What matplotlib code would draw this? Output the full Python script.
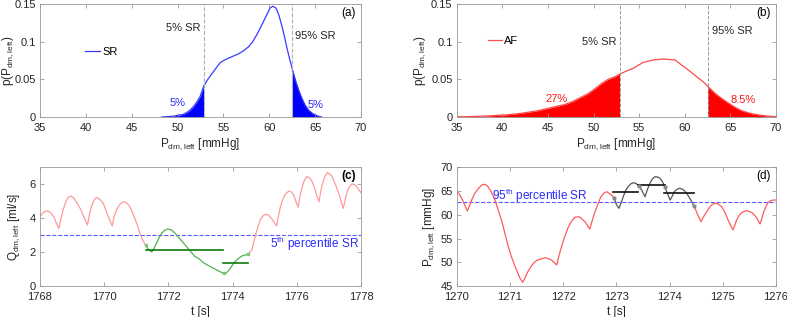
import numpy as np
import matplotlib
matplotlib.use("Agg")
import matplotlib.pyplot as plt

plt.rcParams['font.family'] = ['Liberation Sans', 'DejaVu Sans']
plt.rcParams['mathtext.default'] = 'regular'
plt.rcParams['font.size'] = 8

# --- (a) SR density of P_dm,left ---
sr_p = [48.27, 49.5, 50.63, 51.2, 51.72, 52.1, 52.45, 52.85, 53.3, 53.72, 54.2, 54.63, 55.1, 55.54,
        56.1, 56.63, 57.2, 57.72, 58.2, 58.63, 59.1, 59.54, 60.08, 60.38, 60.74, 61.05, 61.35, 61.65,
        61.9, 62.2, 62.5, 62.85, 63.2, 63.55, 63.9, 64.3, 64.8, 65.3, 65.7]
sr_dens = [0.0, 0.001, 0.0035, 0.0075, 0.0137, 0.02, 0.027, 0.041, 0.05, 0.057, 0.065, 0.072, 0.0755,
           0.078, 0.081, 0.0837, 0.088, 0.093, 0.1, 0.109, 0.12, 0.131, 0.1445, 0.147, 0.1445, 0.135,
           0.122, 0.107, 0.093, 0.078, 0.064, 0.049, 0.036, 0.025, 0.016, 0.009, 0.004, 0.0012, 0.0]

# --- (b) AF density of P_dm,left ---
af_p = [35.0, 36.5, 38.0, 40.3, 42.0, 43.9, 45.8, 46.8, 47.6, 48.5, 49.4, 50.2, 50.9, 51.6, 52.35,
        52.85, 53.6, 54.36, 55.46, 56.55, 57.65, 58.93, 59.66, 60.39, 61.3, 62.0, 62.5, 63.3, 64.0,
        64.6, 65.3, 66.05, 66.8, 67.5, 68.3, 69.0, 70.0]
af_dens = [0.0002, 0.0006, 0.0012, 0.0027, 0.0048, 0.0084, 0.0137, 0.0165, 0.02, 0.0255, 0.031,
           0.038, 0.0447, 0.05, 0.0535, 0.0567, 0.061, 0.0646, 0.0726, 0.0757, 0.077, 0.0757, 0.069,
           0.0624, 0.0535, 0.0469, 0.041, 0.0315, 0.025, 0.02, 0.0145, 0.0093, 0.0062, 0.004, 0.0024,
           0.0013, 0.0004]

sr_p05 = 52.85
sr_p95 = 62.5
dens_ticks = [0, 0.05, 0.1, 0.15]
dens_ticklabels = ['0', '0.05', '0.1', '0.15']
p_ticks = [35, 40, 45, 50, 55, 60, 65, 70]

# --- (c) flow Q_dm,left over time ---
q_t_red1 = [1768.0, 1768.04, 1768.12, 1768.2, 1768.28, 1768.35, 1768.44, 1768.51, 1768.59, 1768.65,
            1768.72, 1768.8, 1768.875, 1768.96, 1769.05, 1769.13, 1769.24, 1769.34, 1769.42, 1769.48,
            1769.54, 1769.6, 1769.68, 1769.76, 1769.86, 1769.97, 1770.05, 1770.125, 1770.2, 1770.25,
            1770.31, 1770.38, 1770.48, 1770.59, 1770.7, 1770.8, 1770.9, 1771.01, 1771.1, 1771.17,
            1771.29]
q_v_red1 = [4.1, 4.19, 4.36, 4.42, 4.4, 4.29, 4.05, 3.7, 3.4, 3.95, 4.48, 4.95, 5.23, 5.31, 5.2,
            4.97, 4.62, 4.19, 3.85, 3.6, 4.2, 4.68, 5.05, 5.23, 5.12, 4.88, 4.5, 4.09, 3.78, 3.54,
            4.1, 4.48, 4.8, 4.97, 4.9, 4.68, 4.25, 3.7, 3.2, 2.81, 2.42]
q_t_green = [1771.29, 1771.375, 1771.48, 1771.55, 1771.63, 1771.71, 1771.79, 1771.88, 1771.98,
             1772.1, 1772.21, 1772.36, 1772.52, 1772.68, 1772.83, 1772.94, 1773.09, 1773.22, 1773.35,
             1773.5, 1773.67, 1773.77, 1773.85, 1773.93, 1774.0, 1774.08, 1774.18, 1774.29, 1774.47]
q_v_green = [2.42, 2.16, 2.0, 2.2, 2.52, 2.85, 3.11, 3.28, 3.36, 3.3, 3.11, 2.78, 2.42, 2.06, 1.73,
             1.63, 1.38, 1.23, 1.1, 0.95, 0.79, 0.75, 0.85, 1.04, 1.25, 1.44, 1.62, 1.77, 1.87]
q_t_red2 = [1774.47, 1774.6, 1774.66, 1774.73, 1774.8, 1774.86, 1774.94, 1775.02, 1775.12, 1775.21,
            1775.3, 1775.37, 1775.43, 1775.49, 1775.56, 1775.625, 1775.75, 1775.83, 1775.9, 1775.97,
            1776.04, 1776.1, 1776.17, 1776.24, 1776.32, 1776.4, 1776.48, 1776.56, 1776.63, 1776.69,
            1776.74, 1776.79, 1776.87, 1776.95, 1777.02, 1777.1, 1777.2, 1777.31, 1777.38, 1777.45,
            1777.51, 1777.57, 1777.65, 1777.73, 1777.8, 1777.88, 1778.0]
q_v_red2 = [1.87, 2.12, 2.6, 3.11, 3.55, 3.89, 4.12, 4.23, 4.17, 4.0, 3.75, 3.54, 4.15, 4.68, 5.1,
            5.37, 5.6, 5.55, 5.37, 5.0, 4.64, 5.3, 5.86, 6.25, 6.45, 6.38, 6.15, 5.75, 5.27, 4.97,
            5.5, 5.96, 6.45, 6.69, 6.62, 6.45, 6.0, 5.47, 5.0, 4.58, 5.1, 5.56, 5.88, 6.02, 5.98,
            5.82, 5.5]
q_mean_t = [[1771.29, 1773.69], [1773.69, 1774.47]]
q_mean_v = [2.12, 1.34]
q_mark_t = [1771.29, 1773.74, 1774.47]
q_mark_v = [2.42, 0.76, 1.87]
q_sr_p05 = 3.0

# --- (d) pressure P_dm,left over time ---
pd_t_red1 = [1270.0, 1270.04, 1270.08, 1270.125, 1270.2, 1270.24, 1270.28, 1270.34, 1270.41,
             1270.46, 1270.5, 1270.55, 1270.59, 1270.65, 1270.72, 1270.78, 1270.85, 1270.91, 1270.97,
             1271.03, 1271.1, 1271.15, 1271.19, 1271.24, 1271.28, 1271.32, 1271.38, 1271.44, 1271.5,
             1271.57, 1271.67, 1271.78, 1271.88, 1271.92, 1271.97, 1272.03, 1272.1, 1272.16, 1272.22,
             1272.3, 1272.41, 1272.5, 1272.55, 1272.6, 1272.66, 1272.71, 1272.77, 1272.82, 1272.91,
             1272.96]
pd_v_red1 = [64.9, 64.52, 63.7, 62.76, 60.8, 61.9, 63.1, 64.5, 65.58, 66.15, 66.42, 66.3, 65.9,
             64.8, 63.1, 61.0, 58.55, 55.9, 53.28, 51.1, 49.07, 47.7, 46.62, 45.78, 46.6, 47.67,
             48.8, 49.78, 50.35, 50.69, 50.97, 50.48, 49.42, 51.3, 53.28, 55.4, 57.49, 58.7, 59.47,
             59.6, 58.55, 57.0, 58.9, 60.65, 62.4, 63.8, 64.6, 64.86, 64.17, 63.47]
pd_t_gray = [1272.96, 1273.0, 1273.05, 1273.09, 1273.13, 1273.17, 1273.22, 1273.27, 1273.32,
             1273.37, 1273.43, 1273.48, 1273.54, 1273.58, 1273.63, 1273.68, 1273.73, 1273.78,
             1273.82, 1273.87, 1273.91, 1273.96, 1274.01, 1274.05, 1274.09, 1274.13, 1274.18,
             1274.23, 1274.28, 1274.33, 1274.38, 1274.42, 1274.46]
pd_v_gray = [63.47, 62.2, 61.36, 62.5, 63.8, 65.0, 65.9, 66.5, 66.76, 66.6, 66.06, 65.1, 63.8,
             65.2, 66.63, 67.6, 68.03, 67.95, 67.68, 66.9, 65.9, 64.5, 63.1, 63.9, 64.86, 65.3,
             65.58, 65.45, 65.07, 64.4, 63.47, 62.7, 61.85]
pd_t_red2 = [1274.46, 1274.5, 1274.53, 1274.59, 1274.63, 1274.67, 1274.72, 1274.76, 1274.8,
             1274.85, 1274.91, 1274.98, 1275.04, 1275.1, 1275.15, 1275.19, 1275.23, 1275.26,
             1275.31, 1275.36, 1275.45, 1275.54, 1275.6, 1275.64, 1275.7, 1275.74, 1275.77,
             1275.81, 1275.85, 1275.9, 1275.94, 1276.0]
pd_v_red2 = [61.85, 60.8, 59.95, 58.55, 59.4, 60.16, 61.0, 61.7, 62.15, 62.42, 62.3, 61.7, 60.5,
             58.9, 57.7, 56.8, 57.9, 58.9, 59.9, 60.52, 60.86, 60.52, 59.9, 59.26, 58.06, 59.4,
             60.65, 61.7, 62.54, 62.95, 63.1, 63.1]
pd_mean_t = [[1272.94, 1273.41], [1273.41, 1273.91], [1273.9, 1274.46]]
pd_mean_v = [64.73, 66.27, 64.52]
pd_mark_t = [1272.96, 1273.43, 1273.91, 1274.46]
pd_mark_v = [63.47, 66.06, 65.9, 61.85]
pd_sr_p95 = 62.63

frame_col = '#9a9a9a'
text_col = '#262626'


def style_axes(ax):
    ax.tick_params(direction='in', top=True, right=True, length=3, width=0.6,
                   color=frame_col, labelcolor=text_col, labelsize=8)
    ax.tick_params(axis='x', pad=4.5)
    ax.tick_params(axis='y', pad=3)
    for s in ax.spines.values():
        s.set_color(frame_col)
        s.set_linewidth(0.6)


fig = plt.figure(figsize=(7.87, 3.17), dpi=100)
ax_a = fig.add_axes([0.0508, 0.6309, 0.4079, 0.3565])
ax_b = fig.add_axes([0.5803, 0.6309, 0.4057, 0.3565])
ax_c = fig.add_axes([0.0508, 0.0978, 0.4079, 0.3744])
ax_d = fig.add_axes([0.5803, 0.0978, 0.4057, 0.3744])

# === (a) ===
x = np.array(sr_p)
y = np.array(sr_dens)
ax_a.fill_between(x, y, where=x <= sr_p05 + 1e-9, color='#0000ff', lw=0)
ax_a.fill_between(x, y, where=x >= sr_p95 - 1e-9, color='#0000ff', lw=0)
ax_a.plot(x, y, color='#3a3aff', lw=0.9, label='SR')
for v in (sr_p05, sr_p95):
    ax_a.axvline(v, color='#b0b0b0', ls='--', lw=0.8)
ax_a.text(sr_p05 - 0.3, 0.1176, '5% SR', ha='right', va='center', color=text_col)
ax_a.text(sr_p95 + 0.25, 0.108, '95% SR', ha='left', va='center', color=text_col)
ax_a.text(50.0, 0.018, '5%', ha='center', va='center', color='#2a2aff')
ax_a.text(65.0, 0.016, '5%', ha='center', va='center', color='#2a2aff')
ax_a.text(0.985, 0.918, '(a)', transform=ax_a.transAxes, ha='right', va='center', fontsize=8.5)
ax_a.legend(loc='center left', bbox_to_anchor=(0.14, 0.575), frameon=False, borderpad=0,
            borderaxespad=0, handlelength=1.35, handletextpad=0.2, fontsize=8)

# === (b) ===
x = np.array(af_p)
y = np.array(af_dens)
ax_b.fill_between(x, y, where=x <= sr_p05 + 1e-9, color='#ff0000', lw=0)
ax_b.fill_between(x, y, where=x >= sr_p95 - 1e-9, color='#ff0000', lw=0)
ax_b.plot(x, y, color='#ff4a4a', lw=0.9, label='AF')
for v in (sr_p05, sr_p95):
    ax_b.axvline(v, color='#9a9a9a', ls='--', lw=0.7)
ax_b.text(sr_p05 - 0.3, 0.1, '5% SR', ha='right', va='center', color=text_col)
ax_b.text(sr_p95 + 0.45, 0.114, '95% SR', ha='left', va='center', color=text_col)
ax_b.text(45.9, 0.0235, '27%', ha='center', va='center', color='#ff1a1a')
ax_b.text(66.35, 0.022, '8.5%', ha='center', va='center', color='#ff1a1a')
ax_b.text(0.985, 0.918, '(b)', transform=ax_b.transAxes, ha='right', va='center', fontsize=8.5)
ax_b.legend(loc='center left', bbox_to_anchor=(0.099, 0.673), frameon=False, borderpad=0,
            borderaxespad=0, handlelength=1.2, handletextpad=0.2, fontsize=8)

for ax in (ax_a, ax_b):
    ax.set_xlim(35, 70)
    ax.set_ylim(0, 0.15)
    ax.set_xticks(p_ticks)
    ax.set_yticks(dens_ticks)
    ax.set_yticklabels(dens_ticklabels)
    ax.set_xlabel(r'$P_{dm,left}$ [mmHg]', fontsize=8.5, color=text_col, labelpad=2)
    ax.set_ylabel(r'$p(P_{dm,left})$', fontsize=8.5, color=text_col)
    style_axes(ax)
ax_a.yaxis.set_label_coords(-0.076, 0.5)
ax_b.yaxis.set_label_coords(-0.09, 0.5)

# === (c) ===
ax_c.axhline(q_sr_p05, color='#5a5aff', ls='--', lw=0.8)
ax_c.plot(q_t_red1, q_v_red1, color='#ff9a9a', lw=0.9)
ax_c.plot(q_t_red2, q_v_red2, color='#ff9a9a', lw=0.9)
ax_c.plot(q_t_green, q_v_green, color='#52b152', lw=0.9)
for (t0, t1), v in zip(q_mean_t, q_mean_v):
    ax_c.plot([t0, t1], [v, v], color='#0a7a0a', lw=1.2)
ax_c.plot(q_mark_t, q_mark_v, ls='none', marker='s', ms=2, color='#7bc47b')
ax_c.text(1775.17, 2.46, '5$^{th}$ percentile SR', color='#2a2aff', ha='left', va='center',
          fontsize=8.5)
ax_c.text(0.985, 0.925, '(c)', transform=ax_c.transAxes, ha='right', va='center', fontsize=8.5,
          fontweight='bold')
ax_c.set_xlim(1768, 1778)
ax_c.set_ylim(0, 7)
ax_c.set_xticks([1768, 1770, 1772, 1774, 1776, 1778])
ax_c.set_xticklabels(['1768', '1770', '1772', '1774', '1776', '1778'])
ax_c.set_yticks([0, 2, 4, 6])
ax_c.set_xlabel('t [s]', fontsize=8.5, color=text_col, labelpad=3)
ax_c.set_ylabel(r'$Q_{dm,left}$ [ml/s]', fontsize=8.5, color=text_col)
ax_c.yaxis.set_label_coords(-0.055, 0.5)
style_axes(ax_c)

# === (d) ===
ax_d.axhline(pd_sr_p95, color='#5a5aff', ls='--', lw=0.8)
ax_d.plot(pd_t_red1, pd_v_red1, color='#ff5a5a', lw=0.9)
ax_d.plot(pd_t_red2, pd_v_red2, color='#ff5a5a', lw=0.9)
ax_d.plot(pd_t_gray, pd_v_gray, color='#555555', lw=0.9)
for (t0, t1), v in zip(pd_mean_t, pd_mean_v):
    ax_d.plot([t0, t1], [v, v], color='#111111', lw=1.2)
ax_d.plot(pd_mark_t, pd_mark_v, ls='none', marker='o', ms=2, color='#888888')
ax_d.text(1270.67, 63.9, '95$^{th}$ percentile SR', color='#2a2aff', ha='left', va='center',
          fontsize=8.5)
ax_d.text(0.985, 0.925, '(d)', transform=ax_d.transAxes, ha='right', va='center', fontsize=8.5)
ax_d.set_xlim(1270, 1276)
ax_d.set_ylim(45, 70)
ax_d.set_xticks([1270, 1271, 1272, 1273, 1274, 1275, 1276])
ax_d.set_xticklabels(['1270', '1271', '1272', '1273', '1274', '1275', '1276'])
ax_d.set_yticks([45, 50, 55, 60, 65, 70])
ax_d.set_xlabel('t [s]', fontsize=8.5, color=text_col, labelpad=3)
ax_d.set_ylabel(r'$P_{dm,left}$ [mmHg]', fontsize=8.5, color=text_col)
ax_d.yaxis.set_label_coords(-0.062, 0.5)
style_axes(ax_d)

fig.savefig('out.png', dpi=100)
